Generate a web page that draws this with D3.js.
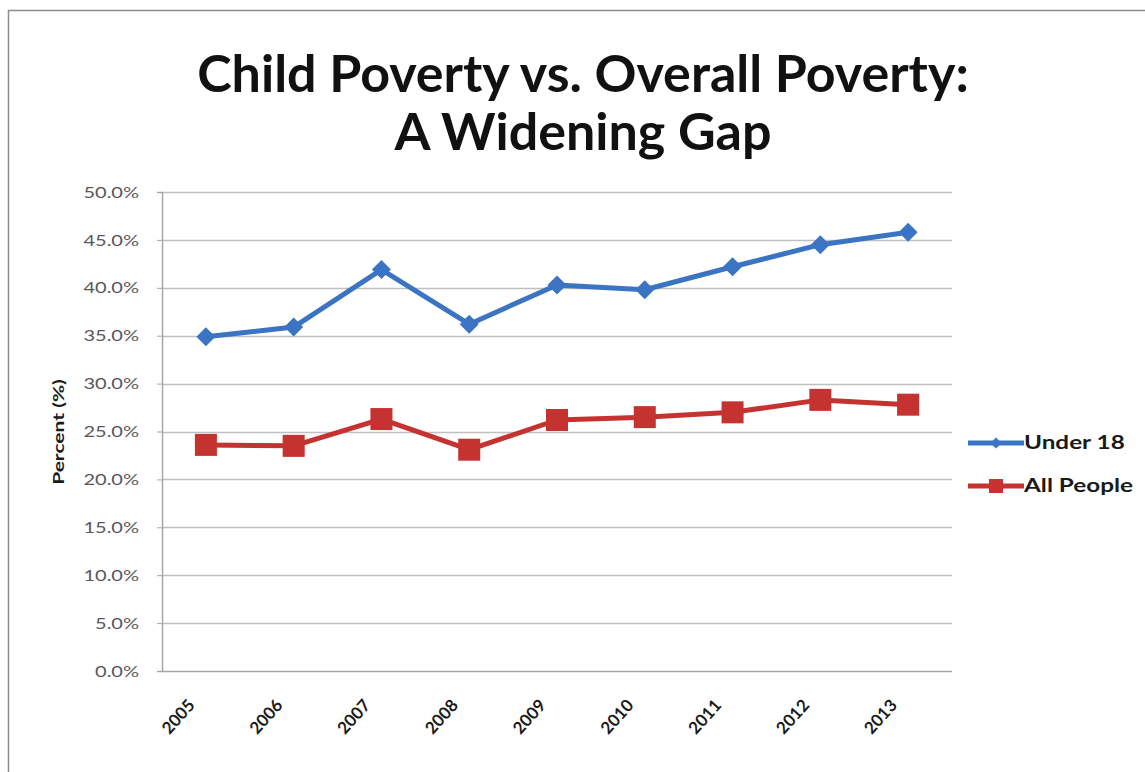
<!DOCTYPE html>
<html lang="en">
<head>
<meta charset="utf-8">
<title>Child Poverty vs. Overall Poverty</title>
<script src="https://cdn.jsdelivr.net/npm/d3@7/dist/d3.min.js"></script>
<style>
  body { margin: 0; background: #fff; }
  text { font-family: Lato, "Open Sans", sans-serif; }
</style>
</head>
<body>
<svg id="chart" width="1145" height="772"></svg>
<script>
// data
var years = ["2005", "2006", "2007", "2008", "2009", "2010", "2011", "2012", "2013"];
var under18 = [34.9, 35.9, 41.9, 36.2, 40.3, 39.8, 42.2, 44.5, 45.8];
var allPeople = [23.6, 23.5, 26.3, 23.1, 26.2, 26.5, 27.0, 28.3, 27.8];
var yTicks = [0, 5, 10, 15, 20, 25, 30, 35, 40, 45, 50];
var seriesNames = ["Under 18", "All People"];

var svg = d3.select("#chart");
var plotLeft = 162, plotRight = 952, plotTop = 192, plotBottom = 671;

var x = d3.scalePoint().domain(years).range([plotLeft, plotRight]).padding(0.5);
var y = d3.scaleLinear().domain([0, 50]).range([plotBottom, plotTop]);

// the source picture is a bit stretched sideways, widen text to match
function widen(sel, k) {
  sel.each(function () {
    var w = this.getComputedTextLength();
    d3.select(this).attr("textLength", w * k).attr("lengthAdjust", "spacingAndGlyphs");
  });
}

// outer frame
svg.append("rect")
  .attr("x", 8.5).attr("y", 10.5)
  .attr("width", 1200).attr("height", 900)
  .attr("fill", "none").attr("stroke", "#8c8c8c").attr("stroke-width", 1.5);

// title
var title = svg.append("text")
  .attr("text-anchor", "middle")
  .attr("font-weight", "bold").attr("font-size", 52).attr("fill", "#111");
title.append("tspan").attr("x", 583).attr("y", 92).text("Child Poverty vs. Overall Poverty:");
title.append("tspan").attr("x", 583).attr("y", 150).text("A Widening Gap");

// gridlines
svg.append("g")
  .selectAll("line").data(yTicks.slice(1)).join("line")
  .attr("x1", plotLeft).attr("x2", plotRight)
  .attr("y1", function (d) { return Math.round(y(d)) + 0.5; })
  .attr("y2", function (d) { return Math.round(y(d)) + 0.5; })
  .attr("stroke", "#bfbfbf").attr("stroke-width", 1.5);

// y axis
var yAxis = svg.append("g")
  .attr("transform", "translate(" + plotLeft + ",0)")
  .call(d3.axisLeft(y).tickValues(yTicks).tickSize(5).tickPadding(18)
    .tickFormat(function (d) { return d.toFixed(1) + "%"; }));
yAxis.select(".domain").attr("stroke", "#a6a6a6").attr("stroke-width", 1.5);
yAxis.selectAll(".tick line").attr("stroke", "#a6a6a6");
yAxis.selectAll("text").attr("font-size", 16).attr("fill", "#595959")
  .style("font-family", "Lato, sans-serif")
  .call(widen, 1.25);

// x axis
var xAxis = svg.append("g")
  .attr("transform", "translate(0," + plotBottom + ")")
  .call(d3.axisBottom(x).tickSize(0).tickSizeOuter(0).tickPadding(0));
xAxis.select(".domain").attr("d", "M" + plotLeft + ",0.5H" + plotRight)
  .attr("stroke", "#a6a6a6").attr("stroke-width", 1.5);
xAxis.selectAll("text")
  .attr("text-anchor", "end").attr("dy", "0.35em")
  .attr("font-size", 17).attr("font-weight", "bold").attr("fill", "#1a1a1a")
  .attr("transform", "translate(-15,31) rotate(-48)");

// y label
svg.append("text")
  .attr("transform", "translate(64,432) rotate(-90)")
  .attr("text-anchor", "middle").attr("font-size", 15).attr("font-weight", "bold")
  .attr("fill", "#1a1a1a").text("Percent (%)")
  .call(widen, 1.4);

var line = d3.line()
  .x(function (d, i) { return x(years[i]); })
  .y(function (d) { return y(d); });

var blue = "#3b74c2", red = "#c53331";

// under 18
svg.append("path").datum(under18).attr("d", line)
  .attr("fill", "none").attr("stroke", blue).attr("stroke-width", 5)
  .attr("stroke-linejoin", "round");
svg.append("g").selectAll("path").data(under18).join("path")
  .attr("d", d3.symbol(d3.symbolDiamond2, 230))
  .attr("transform", function (d, i) { return "translate(" + x(years[i]) + "," + y(d) + ")"; })
  .attr("fill", blue);

// all people
svg.append("path").datum(allPeople).attr("d", line)
  .attr("fill", "none").attr("stroke", red).attr("stroke-width", 5)
  .attr("stroke-linejoin", "round");
svg.append("g").selectAll("rect").data(allPeople).join("rect")
  .attr("x", function (d, i) { return x(years[i]) - 11; })
  .attr("y", function (d) { return y(d) - 11; })
  .attr("width", 22).attr("height", 22)
  .attr("fill", red);

// legend
var legend = svg.append("g").selectAll("g").data(seriesNames).join("g")
  .attr("transform", function (d, i) { return "translate(968," + (443 + i * 43) + ")"; });
legend.append("line").attr("x1", 0).attr("x2", 56)
  .attr("stroke", function (d, i) { return i ? red : blue; }).attr("stroke-width", 5);
legend.each(function (d, i) {
  var g = d3.select(this);
  if (i === 0) {
    g.append("path").attr("d", d3.symbol(d3.symbolDiamond2, 80))
      .attr("transform", "translate(28,0)").attr("fill", blue);
  } else {
    g.append("rect").attr("x", 21).attr("y", -7).attr("width", 14).attr("height", 14).attr("fill", red);
  }
});
legend.append("text").attr("x", 56).attr("dy", "0.35em")
  .attr("font-size", 18).attr("font-weight", "bold").attr("fill", "#1a1a1a")
  .text(function (d) { return d; })
  .call(widen, 1.35);
</script>
</body>
</html>
